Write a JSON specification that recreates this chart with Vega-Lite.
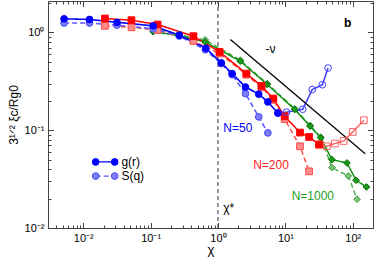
{
  "$schema": "https://vega.github.io/schema/vega-lite/v6.json",
  "width": 325,
  "height": 227,
  "autosize": {"type": "none"},
  "padding": {"left": 48, "top": 1, "right": 1, "bottom": 31},
  "background": "white",
  "data": {"name": "pts"},
  "config": {
    "view": {"stroke": "#444444", "strokeWidth": 1},
    "font": "Liberation Sans",
    "axis": {
      "grid": false,
      "domainColor": "#444444",
      "tickColor": "#444444",
      "labelColor": "#000000",
      "labelFontSize": 11,
      "labelFont": "Liberation Sans",
      "titleFont": "Liberation Sans",
      "titleFontWeight": "normal",
      "titleColor": "#000000",
      "labelOverlap": false,
      "labelFlush": false,
      "labelBound": false
    }
  },
  "datasets": {
    "pts": [
      {"s": "s1000", "x": 0.109, "y": 1.12}, {"s": "s1000", "x": 0.258, "y": 0.95}, {"s": "s1000", "x": 0.646, "y": 0.84}, {"s": "s1000", "x": 2.15, "y": 0.52}, {"s": "s1000", "x": 5.39, "y": 0.30}, {"s": "s1000", "x": 13.8, "y": 0.166}, {"s": "s1000", "x": 23.3, "y": 0.112}, {"s": "s1000", "x": 33.6, "y": 0.085}, {"s": "s1000", "x": 49.1, "y": 0.0415}, {"s": "s1000", "x": 86, "y": 0.0341}, {"s": "s1000", "x": 116, "y": 0.0197},
      {"s": "g1000", "x": 0.109, "y": 1.02}, {"s": "g1000", "x": 0.258, "y": 0.93}, {"s": "g1000", "x": 0.646, "y": 0.80}, {"s": "g1000", "x": 2.15, "y": 0.508}, {"s": "g1000", "x": 5.39, "y": 0.294}, {"s": "g1000", "x": 13.8, "y": 0.163}, {"s": "g1000", "x": 23.3, "y": 0.11}, {"s": "g1000", "x": 33.6, "y": 0.0834}, {"s": "g1000", "x": 49.1, "y": 0.0501}, {"s": "g1000", "x": 82.2, "y": 0.0463}, {"s": "g1000", "x": 112, "y": 0.0308}, {"s": "g1000", "x": 160, "y": 0.0263},
      {"s": "o200", "x": 31.7, "y": 0.0714}, {"s": "o200", "x": 41.3, "y": 0.0686}, {"s": "o200", "x": 54.4, "y": 0.0731}, {"s": "o200", "x": 73.4, "y": 0.0777}, {"s": "o200", "x": 100, "y": 0.0961}, {"s": "o200", "x": 146, "y": 0.1265},
      {"s": "s200", "x": 0.021, "y": 1.17}, {"s": "s200", "x": 0.052, "y": 1.13}, {"s": "s200", "x": 0.127, "y": 1.06}, {"s": "s200", "x": 0.432, "y": 0.82}, {"s": "s200", "x": 1.057, "y": 0.61}, {"s": "s200", "x": 2.64, "y": 0.37}, {"s": "s200", "x": 4.43, "y": 0.275}, {"s": "s200", "x": 6.62, "y": 0.205}, {"s": "s200", "x": 9.78, "y": 0.13}, {"s": "s200", "x": 16.5, "y": 0.0686}, {"s": "s200", "x": 22.5, "y": 0.038},
      {"s": "g200", "x": 0.021, "y": 1.39}, {"s": "g200", "x": 0.052, "y": 1.336}, {"s": "g200", "x": 0.127, "y": 1.207}, {"s": "g200", "x": 0.432, "y": 0.917}, {"s": "g200", "x": 1.057, "y": 0.633}, {"s": "g200", "x": 2.64, "y": 0.38}, {"s": "g200", "x": 4.43, "y": 0.284}, {"s": "g200", "x": 6.62, "y": 0.211}, {"s": "g200", "x": 9.78, "y": 0.139}, {"s": "g200", "x": 16.5, "y": 0.0947}, {"s": "g200", "x": 22.5, "y": 0.0854}, {"s": "g200", "x": 31.7, "y": 0.0714},
      {"s": "o50", "x": 7.76, "y": 0.150}, {"s": "o50", "x": 10.4, "y": 0.153}, {"s": "o50", "x": 18.1, "y": 0.164}, {"s": "o50", "x": 25.1, "y": 0.261}, {"s": "o50", "x": 35.4, "y": 0.292}, {"s": "o50", "x": 43.1, "y": 0.433},
      {"s": "s50", "x": 0.0052, "y": 1.25}, {"s": "s50", "x": 0.0124, "y": 1.25}, {"s": "s50", "x": 0.0317, "y": 1.19}, {"s": "s50", "x": 0.109, "y": 1.09}, {"s": "s50", "x": 0.267, "y": 0.92}, {"s": "s50", "x": 0.65, "y": 0.665}, {"s": "s50", "x": 1.12, "y": 0.48}, {"s": "s50", "x": 1.62, "y": 0.37}, {"s": "s50", "x": 2.56, "y": 0.237}, {"s": "s50", "x": 4.03, "y": 0.137}, {"s": "s50", "x": 5.5, "y": 0.094},
      {"s": "g50", "x": 0.0052, "y": 1.38}, {"s": "g50", "x": 0.0124, "y": 1.36}, {"s": "g50", "x": 0.0317, "y": 1.27}, {"s": "g50", "x": 0.109, "y": 1.17}, {"s": "g50", "x": 0.267, "y": 0.94}, {"s": "g50", "x": 0.66, "y": 0.69}, {"s": "g50", "x": 1.12, "y": 0.489}, {"s": "g50", "x": 1.62, "y": 0.38}, {"s": "g50", "x": 2.56, "y": 0.277}, {"s": "g50", "x": 4.03, "y": 0.234}, {"s": "g50", "x": 5.5, "y": 0.195}, {"s": "g50", "x": 7.76, "y": 0.150},
      {"s": "ls", "x": 0.0153, "y": 0.034}, {"s": "ls", "x": 0.0293, "y": 0.034},
      {"s": "lg", "x": 0.0153, "y": 0.0474}, {"s": "lg", "x": 0.0293, "y": 0.0474},
      {"s": "ref", "x": 1.53, "y": 0.848}, {"s": "ref", "x": 153, "y": 0.0575}
    ]
  },
  "resolve": {"axis": {"x": "independent", "y": "independent"}},
  "layer": [
    {
      "encoding": {
        "x": {
          "field": "x", "type": "quantitative",
          "scale": {"type": "log", "domain": [0.003, 200], "nice": false},
          "axis": {
            "orient": "bottom",
            "title": "χ",
            "titleFontSize": 13,
            "titlePadding": 0,
            "values": [0.01, 0.1, 1, 10, 100],
            "labelExpr": "datum.value == 0.01 ? '10⁻²' : datum.value == 0.1 ? '10⁻¹' : datum.value == 1 ? '10⁰' : datum.value == 10 ? '10¹' : '10²'",
            "ticks": false,
            "labelPadding": 4
          }
        },
        "y": {
          "field": "y", "type": "quantitative",
          "scale": {"type": "log", "domain": [0.01, 2.1], "nice": false},
          "axis": {
            "orient": "left",
            "title": "3¹ᐟ² ξc/Rg0",
            "titleFontSize": 12,
            "titlePadding": 4,
            "values": [0.01, 0.1, 1],
            "labelExpr": "datum.value == 0.01 ? '10⁻²' : datum.value == 0.1 ? '10⁻¹' : '10⁰'",
            "ticks": false,
            "labelPadding": 4
          }
        }
      },
      "layer": [
        {
          "data": {"values": [{"x": 1, "y": 0.01, "y2": 2.1}]},
          "mark": {"type": "rule", "color": "#555555", "strokeDash": [4, 3], "strokeWidth": 1.2},
          "encoding": {"y2": {"field": "y2"}}
        },
        {
          "mark": {"type": "line", "clip": true},
          "encoding": {
            "color": {"field": "s", "type": "nominal", "legend": null,
              "scale": {"domain": ["g50","s50","o50","g200","s200","o200","g1000","s1000","lg","ls","ref"],
                        "range": ["#0000ff","#5858ff","#4040ff","#ff0000","#ff5050","#ff6060","#0a8f0a","#44aa44","#0000ff","#5858ff","#000000"]}},
            "strokeDash": {"field": "s", "type": "nominal", "legend": null,
              "scale": {"domain": ["g50","s50","o50","g200","s200","o200","g1000","s1000","lg","ls","ref"],
                        "range": [[1,0],[5,3],[1,0],[1,0],[5,3],[1,0],[1,0],[5,3],[1,0],[5,3],[1,0]]}},
            "strokeWidth": {"field": "s", "type": "nominal", "legend": null,
              "scale": {"domain": ["g50","s50","o50","g200","s200","o200","g1000","s1000","lg","ls","ref"],
                        "range": [1.6,1.3,1,1.6,1.3,1,1.6,1.3,1.6,1.3,1]}},
            "order": {"field": "x", "type": "quantitative"}
          }
        },
        {
          "transform": [{"filter": "datum.s != 'ref'"}],
          "mark": {"type": "point", "filled": false, "size": 45, "strokeWidth": 1, "opacity": 1},
          "encoding": {
            "shape": {"field": "s", "type": "nominal", "legend": null,
              "scale": {"domain": ["g50","s50","o50","g200","s200","o200","g1000","s1000","lg","ls"],
                        "range": ["circle","circle","circle","square","square","square","diamond","diamond","circle","circle"]}},
            "fill": {"field": "s", "type": "nominal", "legend": null,
              "scale": {"domain": ["g50","s50","o50","g200","s200","o200","g1000","s1000","lg","ls"],
                        "range": ["#0000ff","#7d7df5","transparent","#ff0000","#ff8c8c","transparent","#1a9a1a","#7cc47c","#0000ff","#7d7df5"]}},
            "stroke": {"field": "s", "type": "nominal", "legend": null,
              "scale": {"domain": ["g50","s50","o50","g200","s200","o200","g1000","s1000","lg","ls"],
                        "range": ["#0000ff","#4848ff","#4040ff","#ff0000","#ff4848","#ff6060","#0a6a0a","#3a9a3a","#0000ff","#4848ff"]}}
          }
        },
        {
          "data": {"values": [{"x": 0.0369, "y": 0.0474, "t": "g(r)"}, {"x": 0.0369, "y": 0.034, "t": "S(q)"}]},
          "mark": {"type": "text", "align": "left", "baseline": "middle", "fontSize": 12, "color": "#000000"},
          "encoding": {"text": {"field": "t"}}
        },
        {
          "data": {"values": [{"x": 1.2, "y": 0.1048, "t": "N=50"}]},
          "mark": {"type": "text", "align": "left", "baseline": "middle", "fontSize": 12, "color": "#0000ff"},
          "encoding": {"text": {"field": "t"}}
        },
        {
          "data": {"values": [{"x": 3.33, "y": 0.0438, "t": "N=200"}]},
          "mark": {"type": "text", "align": "left", "baseline": "middle", "fontSize": 12, "color": "#ff2020"},
          "encoding": {"text": {"field": "t"}}
        },
        {
          "data": {"values": [{"x": 12.4, "y": 0.0211, "t": "N=1000"}]},
          "mark": {"type": "text", "align": "left", "baseline": "middle", "fontSize": 12, "color": "#22a022"},
          "encoding": {"text": {"field": "t"}}
        },
        {
          "data": {"values": [{"x": 1.2, "y": 0.0159, "t": "χ*"}, {"x": 5.08, "y": 0.675, "t": "-ν"}]},
          "mark": {"type": "text", "align": "left", "baseline": "middle", "fontSize": 12, "color": "#000000"},
          "encoding": {"text": {"field": "t"}}
        },
        {
          "data": {"values": [{"x": 84.2, "y": 1.245, "t": "b"}]},
          "mark": {"type": "text", "align": "center", "baseline": "middle", "fontSize": 12, "fontWeight": "bold", "color": "#000000"},
          "encoding": {"text": {"field": "t"}}
        }
      ]
    },
    {
      "mark": {"type": "point", "opacity": 0},
      "encoding": {
        "x": {
          "field": "x", "type": "quantitative",
          "scale": {"type": "log", "domain": [0.003, 200], "nice": false},
          "axis": {
            "orient": "top", "offset": -227, "title": null, "labels": false, "domain": false,
            "values": [0.003,0.004,0.005,0.006,0.007,0.008,0.009,0.01,0.02,0.03,0.04,0.05,0.06,0.07,0.08,0.09,0.1,0.2,0.3,0.4,0.5,0.6,0.7,0.8,0.9,1,2,3,4,5,6,7,8,9,10,20,30,40,50,60,70,80,90,100],
            "tickSize": {"condition": {"test": "datum.value == 0.01 || datum.value == 0.1 || datum.value == 1 || datum.value == 10 || datum.value == 100", "value": 5.5}, "value": 3}
          }
        },
        "y": {
          "field": "y", "type": "quantitative",
          "scale": {"type": "log", "domain": [0.01, 2.1], "nice": false},
          "axis": {
            "orient": "right", "offset": -325, "title": null, "labels": false, "domain": false,
            "values": [0.01,0.02,0.03,0.04,0.05,0.06,0.07,0.08,0.09,0.1,0.2,0.3,0.4,0.5,0.6,0.7,0.8,0.9,1,2],
            "tickSize": {"condition": {"test": "datum.value == 0.01 || datum.value == 0.1 || datum.value == 1", "value": 5.5}, "value": 3}
          }
        }
      }
    },
    {
      "mark": {"type": "point", "opacity": 0},
      "encoding": {
        "x": {
          "field": "x", "type": "quantitative",
          "scale": {"type": "log", "domain": [0.003, 200], "nice": false},
          "axis": {
            "orient": "bottom", "offset": -227, "title": null, "labels": false, "domain": false,
            "values": [0.003,0.004,0.005,0.006,0.007,0.008,0.009,0.01,0.02,0.03,0.04,0.05,0.06,0.07,0.08,0.09,0.1,0.2,0.3,0.4,0.5,0.6,0.7,0.8,0.9,1,2,3,4,5,6,7,8,9,10,20,30,40,50,60,70,80,90,100],
            "tickSize": {"condition": {"test": "datum.value == 0.01 || datum.value == 0.1 || datum.value == 1 || datum.value == 10 || datum.value == 100", "value": 5.5}, "value": 3}
          }
        },
        "y": {
          "field": "y", "type": "quantitative",
          "scale": {"type": "log", "domain": [0.01, 2.1], "nice": false},
          "axis": {
            "orient": "left", "offset": -325, "title": null, "labels": false, "domain": false,
            "values": [0.01,0.02,0.03,0.04,0.05,0.06,0.07,0.08,0.09,0.1,0.2,0.3,0.4,0.5,0.6,0.7,0.8,0.9,1,2],
            "tickSize": {"condition": {"test": "datum.value == 0.01 || datum.value == 0.1 || datum.value == 1", "value": 5.5}, "value": 3}
          }
        }
      }
    }
  ]
}
